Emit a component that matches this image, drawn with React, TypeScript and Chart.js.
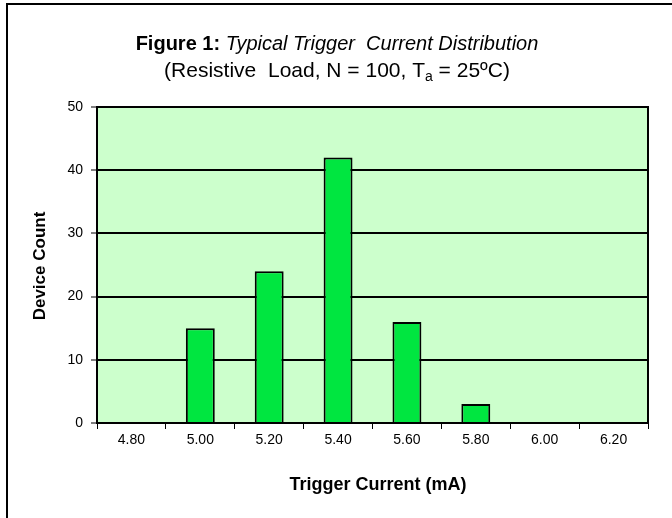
import React, { useEffect, useRef } from "react";
import { Chart, registerables } from "chart.js";

Chart.register(...registerables);

const categories = ["4.80", "5.00", "5.20", "5.40", "5.60", "5.80", "6.00", "6.20"];
const deviceCounts = [0, 15, 24, 42, 16, 3, 0, 0];
const yTicks = [0, 10, 20, 30, 40, 50];

const FONT = "'Liberation Sans', Arial, sans-serif";

const decorPlugin = {
  id: "decor",
  beforeDraw(chart: any) {
    const { ctx, chartArea } = chart;
    ctx.save();
    ctx.fillStyle = "#ffffff";
    ctx.fillRect(0, 0, chart.width, chart.height);
    ctx.strokeStyle = "#000";
    ctx.lineWidth = 2;
    ctx.beginPath();
    ctx.moveTo(7, chart.height + 5);
    ctx.lineTo(7, 4);
    ctx.lineTo(chart.width + 5, 4);
    ctx.stroke();
    ctx.fillStyle = "#CCFFCC";
    ctx.fillRect(chartArea.left, chartArea.top, chartArea.right - chartArea.left, chartArea.bottom - chartArea.top);
    ctx.restore();
  },
  afterDatasetsDraw(chart: any) {
    const { ctx, chartArea } = chart;
    ctx.save();
    ctx.strokeStyle = "#000";
    ctx.lineWidth = 2;
    ctx.strokeRect(chartArea.left, chartArea.top, chartArea.right - chartArea.left, chartArea.bottom - chartArea.top);
    ctx.restore();
  },
  afterDraw(chart: any) {
    const { ctx } = chart;
    ctx.save();
    ctx.fillStyle = "#000";
    ctx.textBaseline = "middle";
    const boldF = `bold 20px ${FONT}`;
    const italF = `italic 20px ${FONT}`;
    const p1 = "Figure 1:";
    const p2 = " Typical Trigger  Current Distribution";
    ctx.font = boldF;
    const w1 = ctx.measureText(p1).width;
    ctx.font = italF;
    const w2 = ctx.measureText(p2).width;
    let x = 337 - (w1 + w2) / 2;
    ctx.textAlign = "left";
    ctx.font = boldF;
    ctx.fillText(p1, x, 44);
    ctx.font = italF;
    ctx.fillText(p2, x + w1, 44);
    const normF = `21px ${FONT}`;
    const subF = `14px ${FONT}`;
    const s1 = "(Resistive  Load, N = 100, T";
    const s2 = "a";
    const s3 = " = 25ºC)";
    ctx.font = normF;
    const a = ctx.measureText(s1).width;
    const c = ctx.measureText(s3).width;
    ctx.font = subF;
    const b = ctx.measureText(s2).width;
    x = 337 - (a + b + c) / 2;
    ctx.font = normF;
    ctx.fillText(s1, x, 71);
    ctx.font = subF;
    ctx.fillText(s2, x + a, 77);
    ctx.font = normF;
    ctx.fillText(s3, x + a + b, 71);
    ctx.font = `bold 18px ${FONT}`;
    ctx.textAlign = "center";
    ctx.fillText("Trigger Current (mA)", 378, 485);
    ctx.translate(40, 266);
    ctx.rotate(-Math.PI / 2);
    ctx.font = `bold 17px ${FONT}`;
    ctx.fillText("Device Count", 0, 0);
    ctx.restore();
  },
};

export default function App() {
  const ref = useRef<HTMLCanvasElement | null>(null);

  useEffect(() => {
    if (!ref.current) return;
    const chart = new Chart(ref.current, {
      type: "bar",
      data: {
        labels: categories,
        datasets: [
          {
            data: deviceCounts,
            backgroundColor: "#00E640",
            borderColor: "#000000",
            borderWidth: 2,
            barPercentage: 0.42,
            categoryPercentage: 1,
          },
        ],
      },
      options: {
        responsive: false,
        animation: false,
        layout: { padding: { top: 107, right: 24, left: 0, bottom: 0 } },
        plugins: {
          legend: { display: false },
          title: { display: false },
          tooltip: { enabled: false },
        },
        scales: {
          x: {
            offset: true,
            afterFit: (s: any) => {
              s.height = 95;
            },
            grid: {
              display: true,
              drawOnChartArea: false,
              drawTicks: true,
              tickLength: 6,
              color: "#000",
              lineWidth: 1,
              offset: true,
            },
            border: { display: false },
            ticks: {
              color: "#000",
              font: { family: FONT, size: 14 },
              padding: 3,
              maxRotation: 0,
            },
          },
          y: {
            min: 0,
            max: 50,
            afterFit: (s: any) => {
              s.width = 97;
            },
            afterBuildTicks: (s: any) => {
              s.ticks = yTicks.map((v) => ({ value: v }));
            },
            grid: {
              color: "#000",
              lineWidth: 2,
              tickLength: 6,
              tickColor: "#000",
              tickWidth: 1,
            },
            border: { display: false },
            ticks: {
              color: "#000",
              font: { family: FONT, size: 14 },
              padding: 8,
            },
          },
        },
      },
      plugins: [decorPlugin],
    });
    return () => chart.destroy();
  }, []);

  return (
    <div style={{ position: "fixed", left: 0, top: 0, width: 672, height: 518, background: "#fff" }}>
      <canvas ref={ref} width={672} height={518} style={{ width: 672, height: 518, display: "block" }} />
    </div>
  );
}
